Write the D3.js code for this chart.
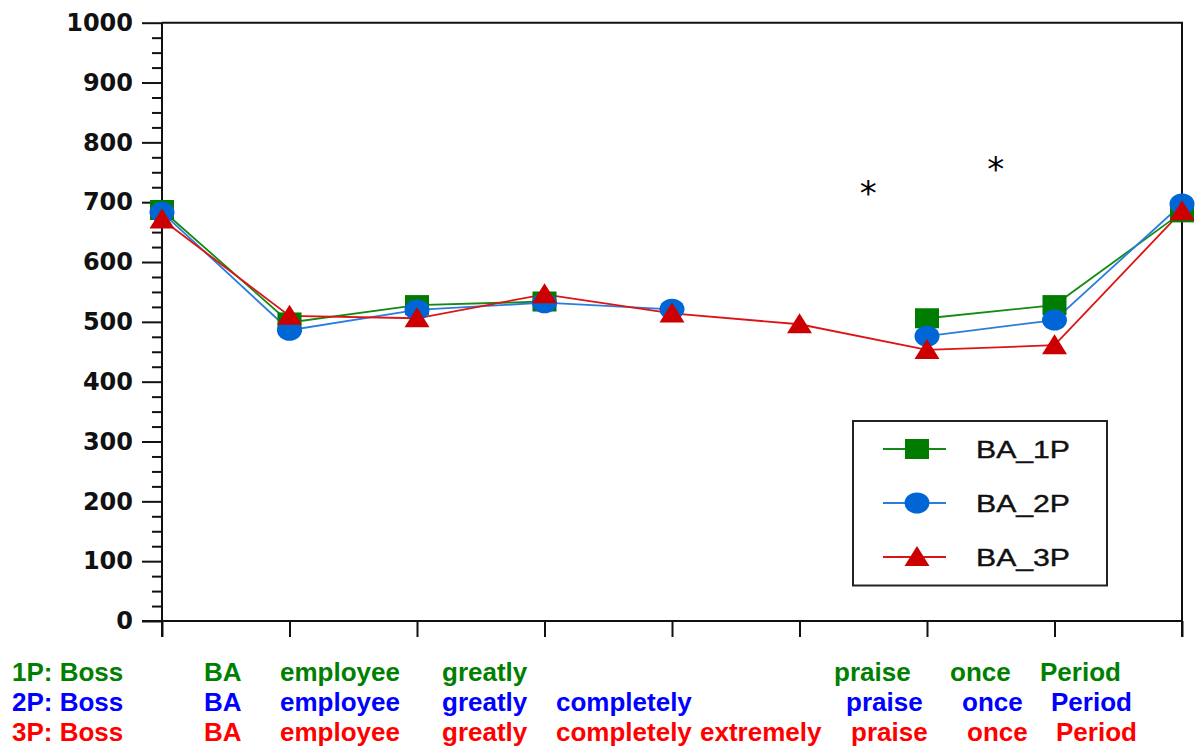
<!DOCTYPE html>
<html>
<head>
<meta charset="utf-8">
<script src="https://cdn.jsdelivr.net/npm/d3@7"></script>
<style>
  html, body { margin: 0; padding: 0; background: #fff; }
  svg { display: block; }
</style>
</head>
<body>
<svg id="chart" width="1204" height="747"></svg>
<script>
// ---- data ----
const categories = ["Boss", "BA", "employee", "greatly", "completely", "extremely", "praise", "once", "Period"];
const ba1P = [687, 499, 528, 534, null, null, 506, 528, 683];
const ba2P = [683, 486, 520, 532, 521, null, 476, 503, 697];
const ba3P = [671, 510, 506, 546, 514, 496, 453, 461, 685];
const seriesNames = ["BA_1P", "BA_2P", "BA_3P"];
const yTickValues = [0, 100, 200, 300, 400, 500, 600, 700, 800, 900, 1000];
const yMinorValues = d3.range(0, 1001, 25).filter(v => v % 100 !== 0);

// significance marks: position on the category axis and value
const sigPos = [5.5, 6.5];
const sigValue = [718, 759];

// word rows printed under the axis
const row1Words = ["1P: Boss", "BA", "employee", "greatly", "praise", "once", "Period"];
const row2Words = ["2P: Boss", "BA", "employee", "greatly", "completely", "praise", "once", "Period"];
const row3Words = ["3P: Boss", "BA", "employee", "greatly", "completely", "extremely", "praise", "once", "Period"];

// ---- layout ----
const plot = { left: 162, top: 22.7, right: 1182, bottom: 621 };
const svg = d3.select("#chart");

const x = d3.scaleLinear().domain([0, categories.length - 1]).range([plot.left, plot.right]);
const y = d3.scaleLinear().domain([0, 1000]).range([plot.bottom, plot.top]);

const styles = [
  { line: "#138a13", fill: "#007d00", shape: "square" },
  { line: "#2a7ddc", fill: "#0066d6", shape: "circle" },
  { line: "#dd1414", fill: "#cc0000", shape: "triangle" }
];
const seriesValues = [ba1P, ba2P, ba3P];

// ---- frame (top and right edges) ----
svg.append("path")
  .attr("d", `M${plot.left},${plot.top}H${plot.right}V${plot.bottom + 16}`)
  .attr("fill", "none").attr("stroke", "#111").attr("stroke-width", 2);

// ---- y axis ----
const yAxisG = svg.append("g").attr("transform", `translate(${plot.left},0)`)
  .call(d3.axisLeft(y).tickValues(yTickValues).tickSize(20).tickPadding(9).tickFormat(d3.format("d")));
yAxisG.select(".domain").remove();
yAxisG.selectAll(".tick line").attr("stroke", "#111").attr("stroke-width", 2);
yAxisG.selectAll(".tick text")
  .attr("fill", "#111")
  .style("font-family", "'DejaVu Sans', sans-serif")
  .style("font-weight", "bold")
  .style("font-size", "24px");

const yMinorG = svg.append("g").attr("transform", `translate(${plot.left},0)`)
  .call(d3.axisLeft(y).tickValues(yMinorValues).tickSize(10).tickFormat(""));
yMinorG.select(".domain").remove();
yMinorG.selectAll(".tick line").attr("stroke", "#111").attr("stroke-width", 2);

svg.append("line")
  .attr("x1", plot.left).attr("x2", plot.left)
  .attr("y1", plot.top).attr("y2", plot.bottom + 16)
  .attr("stroke", "#111").attr("stroke-width", 2);

// ---- x axis ----
const xAxisG = svg.append("g").attr("transform", `translate(0,${plot.bottom})`)
  .call(d3.axisBottom(x).tickValues(d3.range(categories.length)).tickSize(16).tickFormat(""));
xAxisG.select(".domain").remove();
xAxisG.selectAll(".tick line").attr("stroke", "#111").attr("stroke-width", 2);
svg.append("line")
  .attr("x1", plot.left - 20).attr("x2", plot.right)
  .attr("y1", plot.bottom).attr("y2", plot.bottom)
  .attr("stroke", "#111").attr("stroke-width", 2);

// ---- markers ----
function drawMarker(g, shape, fill) {
  if (shape === "square") {
    g.append("rect").attr("x", -12).attr("y", -10).attr("width", 24).attr("height", 20).attr("fill", fill);
  } else if (shape === "circle") {
    g.append("ellipse").attr("rx", 12.5).attr("ry", 10.5).attr("fill", fill);
  } else {
    g.append("path").attr("d", "M0,-11L12.5,9L-12.5,9Z").attr("fill", fill);
  }
}

// ---- lines ----
const line = d3.line()
  .defined(d => d.v != null)
  .x(d => x(d.i))
  .y(d => y(d.v));

seriesValues.forEach((vals, s) => {
  const pts = vals.map((v, i) => ({ i, v }));
  svg.append("path")
    .datum(pts)
    .attr("d", line)
    .attr("fill", "none")
    .attr("stroke", styles[s].line)
    .attr("stroke-width", 1.8);
});

seriesValues.forEach((vals, s) => {
  const pts = vals.map((v, i) => ({ i, v })).filter(d => d.v != null);
  svg.append("g").selectAll("g")
    .data(pts)
    .join("g")
    .attr("transform", d => `translate(${x(d.i)},${y(d.v)})`)
    .each(function () { drawMarker(d3.select(this), styles[s].shape, styles[s].fill); });
});

// ---- significance asterisks ----
svg.append("g").selectAll("text")
  .data(sigPos.map((p, k) => ({ p, v: sigValue[k] })))
  .join("text")
  .attr("x", d => x(d.p) + 5)
  .attr("y", d => y(d.v) + 14)
  .attr("text-anchor", "middle")
  .style("font-family", "'DejaVu Sans', sans-serif")
  .style("font-size", "34px")
  .attr("fill", "#000")
  .text("*");

// ---- legend ----
const legend = svg.append("g");
legend.append("rect")
  .attr("x", 853).attr("y", 421).attr("width", 254).attr("height", 164.5)
  .attr("fill", "#fff").attr("stroke", "#222").attr("stroke-width", 2);
seriesNames.forEach((name, s) => {
  const cy = 449 + s * 54;
  const row = legend.append("g").attr("transform", `translate(0,${cy})`);
  row.append("line").attr("x1", 883).attr("x2", 946).attr("y1", 0).attr("y2", 0)
    .attr("stroke", styles[s].line).attr("stroke-width", 1.8);
  const m = row.append("g").attr("transform", "translate(917,0)");
  drawMarker(m, styles[s].shape, styles[s].fill);
  row.append("text")
    .attr("x", 976).attr("y", 8.5)
    .attr("textLength", 94).attr("lengthAdjust", "spacingAndGlyphs")
    .style("font-family", "'Liberation Sans', Arial, sans-serif")
    .style("font-size", "24px")
    .attr("fill", "#111")
    .attr("stroke", "#111").attr("stroke-width", 0.4)
    .text(name);
});

// ---- word rows under the axis ----
const rows = [
  { words: row1Words, xs: [12, 204, 280, 442, 834, 950, 1040], y: 681, color: "#008000" },
  { words: row2Words, xs: [12, 204, 280, 442, 556, 846, 962, 1051], y: 711, color: "#0000ff" },
  { words: row3Words, xs: [12, 204, 280, 442, 556, 700, 851, 967, 1056], y: 740.5, color: "#ff0000" }
];
rows.forEach(r => {
  svg.append("g").selectAll("text")
    .data(r.words)
    .join("text")
    .attr("x", (d, i) => r.xs[i])
    .attr("y", r.y)
    .attr("fill", r.color)
    .style("font-family", "'Liberation Sans', Arial, sans-serif")
    .style("font-weight", "bold")
    .style("font-size", "26px")
    .text(d => d);
});
</script>
</body>
</html>
